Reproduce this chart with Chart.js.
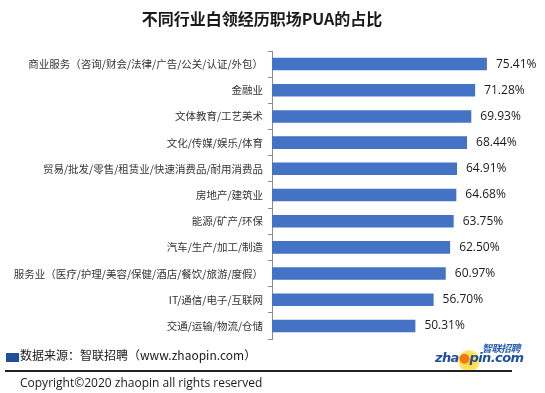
<!DOCTYPE html>
<html>
<head>
<meta charset="utf-8">
<script src="https://cdn.jsdelivr.net/npm/chart.js@4/dist/chart.umd.min.js"></script>
<style>
  html, body { margin: 0; padding: 0; background: #fff; }
  body { width: 545px; height: 393px; position: relative; overflow: hidden; font-family: "Noto Sans CJK SC", "Noto Sans", sans-serif; }
  #wrap { position: absolute; left: 0; top: 0; width: 545px; height: 393px; z-index: 1; }
  #title { position: absolute; left: 0; width: 524px; top: 6px; text-align: center; font-size: 16px; font-weight: bold; color: #1a1a1a; z-index: 2; }
  #src { position: absolute; left: 20px; top: 346px; font-size: 12px; color: #1a1a1a; z-index: 2; }
  #sq { position: absolute; left: 6px; top: 353px; width: 13px; height: 9px; background: #1f4f9f; z-index: 2; }
  #copy { position: absolute; left: 20px; top: 375px; font-size: 12px; line-height: 16px; color: #1a1a1a; font-family: "Open Sans", "Noto Sans", sans-serif; z-index: 2; }
  #foot { position: absolute; left: 5px; top: 370px; width: 507px; height: 2px; border: 0; margin: 0; background: #222; z-index: 20; display: block; }
  #logo1 { position: absolute; left: 482px; top: 340px; font-size: 10px; font-weight: bold; font-style: italic; color: #2a5db0; letter-spacing: -0.5px; z-index: 3; }
  #glow { position: absolute; left: 458px; top: 350px; width: 22px; height: 22px; border-radius: 50%; background: radial-gradient(circle, #ffd21a 0%, #ffe36a 60%, rgba(255,240,160,0.3) 100%); z-index: 2; }
  #logo2 { position: absolute; left: 435px; top: 350px; font-size: 13px; font-weight: bold; font-style: italic; color: #1f4f9f; font-family: "DejaVu Sans", sans-serif; letter-spacing: -0.6px; z-index: 3; }
  #logo2 .o { color: #f07a10; }
</style>
</head>
<body>
<div id="wrap"><canvas id="c" width="545" height="393"></canvas></div>
<div id="title">不同行业白领经历职场PUA的占比</div>
<div id="sq"></div>
<div id="src">数据来源：智联招聘（www.zhaopin.com）</div>
<div id="glow"></div>
<div id="logo1">智联招聘</div>
<div id="logo2">zha<span class="o">●</span>pin.com</div>
<hr id="foot">
<div id="copy">Copyright©2020 zhaopin all rights reserved</div>
<script>
const categories = [
  "商业服务（咨询/财会/法律/广告/公关/认证/外包）",
  "金融业",
  "文体教育/工艺美术",
  "文化/传媒/娱乐/体育",
  "贸易/批发/零售/租赁业/快速消费品/耐用消费品",
  "房地产/建筑业",
  "能源/矿产/环保",
  "汽车/生产/加工/制造",
  "服务业（医疗/护理/美容/保健/酒店/餐饮/旅游/度假）",
  "IT/通信/电子/互联网",
  "交通/运输/物流/仓储"
];
const values = [75.41, 71.28, 69.93, 68.44, 64.91, 64.68, 63.75, 62.50, 60.97, 56.70, 50.31];

const valueLabels = {
  id: 'valueLabels',
  afterDatasetsDraw(chart) {
    const ctx = chart.ctx;
    const meta = chart.getDatasetMeta(0);
    ctx.save();
    ctx.font = '12px "Open Sans", "Noto Sans", sans-serif';
    ctx.fillStyle = '#1a1a1a';
    ctx.textAlign = 'left';
    ctx.textBaseline = 'middle';
    meta.data.forEach((bar, i) => {
      ctx.fillText(values[i].toFixed(2) + '%', bar.x + 9, bar.y);
    });
    ctx.restore();
  }
};

new Chart(document.getElementById('c'), {
  type: 'bar',
  data: {
    labels: categories,
    datasets: [{
      data: values,
      backgroundColor: '#4472C4',
      borderWidth: 0,
      barPercentage: 0.48,
      categoryPercentage: 1.0
    }]
  },
  options: {
    indexAxis: 'y',
    responsive: false,
    animation: false,
    layout: { padding: { left: 0, right: 45, top: 51, bottom: 54 } },
    plugins: { legend: { display: false }, tooltip: { enabled: false }, title: { display: false } },
    scales: {
      x: { display: false, min: 0, max: 80 },
      y: {
        afterFit(scale) { scale.width = 272; },
        border: { display: true, color: '#8c8c8c', width: 1 },
        grid: { display: true, drawOnChartArea: false, drawTicks: true, tickLength: 4, color: '#8c8c8c', offset: true },
        ticks: { color: '#333', padding: 5, autoSkip: false, font: { size: 10.5, family: '"Noto Sans CJK SC", sans-serif' } }
      }
    }
  },
  plugins: [valueLabels]
});
</script>
</body>
</html>
